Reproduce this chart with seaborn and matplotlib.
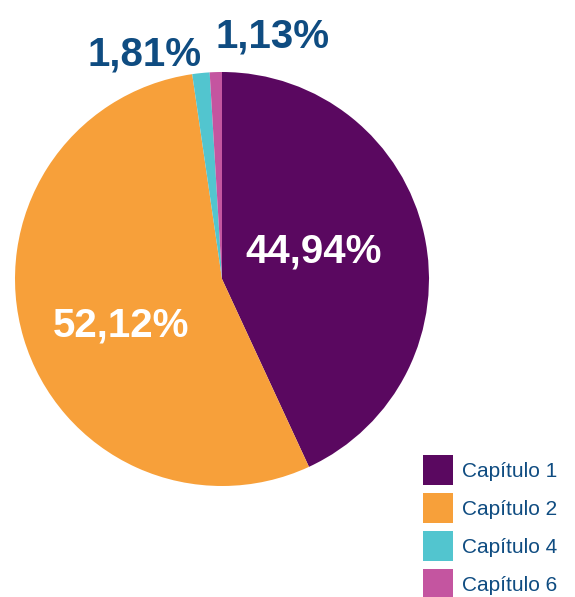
import matplotlib
matplotlib.use("Agg")
import matplotlib.pyplot as plt
import seaborn as sns

# Data
capitulos = ["Capítulo 1", "Capítulo 2", "Capítulo 4", "Capítulo 6"]
# slice sizes as drawn in the picture (angles measured from the wedges)
tamanos = [43.1, 54.6, 1.35, 0.95]
# printed labels
etiquetas = ["44,94%", "52,12%", "1,81%", "1,13%"]
colores = ["#5a0860", "#f7a03a", "#52c5cf", "#c455a0"]

sns.set_theme(style="white")
plt.rcParams['font.family'] = ['Liberation Sans', 'DejaVu Sans']

azul = "#0f4c81"

fig = plt.figure(figsize=(5.75, 5.97), dpi=100)
ax = fig.add_axes([15 / 575, 111 / 597, 414 / 575, 414 / 597])

wedges, _ = ax.pie(tamanos, colors=sns.color_palette(colores), startangle=90,
                   counterclock=False, radius=1,
                   wedgeprops=dict(linewidth=0))
ax.set_xlim(-1, 1)
ax.set_ylim(-1, 1)
ax.set_aspect("equal")
ax.axis("off")

# Percentage labels
ax.text(0.442, 0.082, etiquetas[0], color="white", fontsize=29, fontweight="bold",
        ha="center", va="baseline")
ax.text(-0.486, -0.28, etiquetas[1], color="white", fontsize=29, fontweight="bold",
        ha="center", va="baseline")
ax.text(-0.372, 1.029, etiquetas[2], color=azul, fontsize=29, fontweight="bold",
        ha="center", va="baseline", clip_on=False)
ax.text(0.242, 1.116, etiquetas[3], color=azul, fontsize=29, fontweight="bold",
        ha="center", va="baseline", clip_on=False)

leg = fig.legend(wedges, capitulos, loc="upper left",
                 bbox_to_anchor=(423 / 575, 1 - 455 / 597),
                 frameon=False, fontsize=15, handlelength=1.44, handleheight=1.84,
                 handletextpad=0.45, labelspacing=0.38, borderaxespad=0, borderpad=0)
for t in leg.get_texts():
    t.set_color(azul)

fig.savefig("out.png", dpi=100)
